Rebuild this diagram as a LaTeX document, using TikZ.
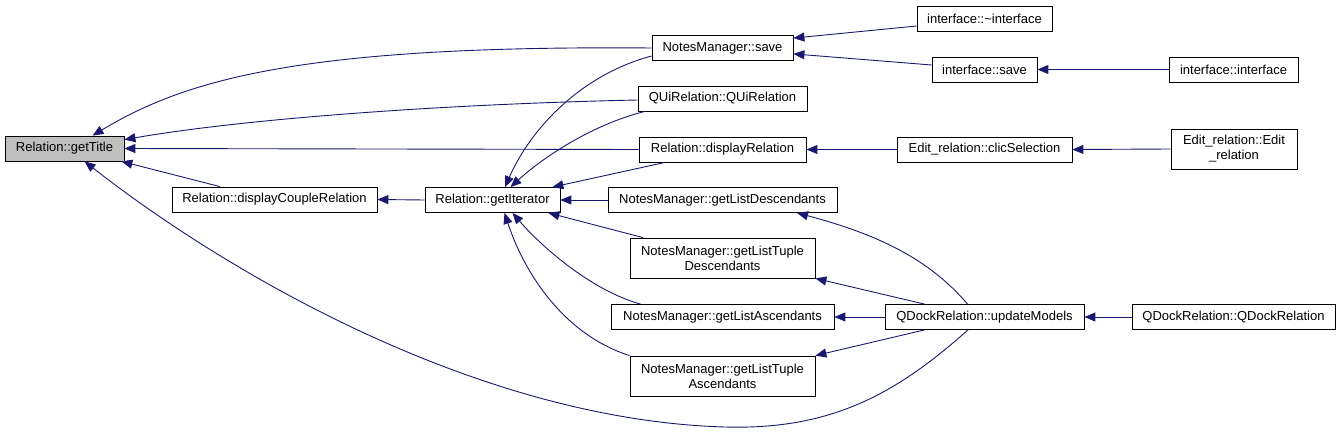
\documentclass[tikz,border=0pt]{standalone}
\usepackage{fontspec}
\setmainfont{Liberation Sans}
\usetikzlibrary{arrows.meta}
\definecolor{edgec}{HTML}{191970}
\definecolor{nodefill}{HTML}{BFBFBF}
\begin{document}
\begin{tikzpicture}[x=1pt,y=-1pt,
  box/.style={draw=black,line width=0.8pt,fill=white,inner sep=0pt,
    font=\fontsize{13}{15}\selectfont,align=center,minimum height=25pt},
  tallbox/.style={box,minimum height=40pt},
  edge/.style={draw=edgec,line width=0.9pt,{Triangle[length=11pt,width=9pt]}-}]
\useasboundingbox (0,0) rectangle (1341,433);
% nodes
\node[box,fill=nodefill,minimum width=119pt] (getTitle) at (64.5,148.5) {Relation::getTitle};
\node[box,minimum width=205pt] (couple) at (274.5,199.5) {Relation::displayCoupleRelation};
\node[box,minimum width=135pt] (iter) at (492.5,200) {Relation::getIterator};
\node[box,minimum width=141pt] (save) at (722.5,48) {NotesManager::save};
\node[box,minimum width=169pt] (qui) at (722.5,98.5) {QUiRelation::QUiRelation};
\node[box,minimum width=167pt] (disprel) at (722.5,149.5) {Relation::displayRelation};
\node[box,minimum width=229pt] (listdesc) at (722.5,200) {NotesManager::getListDescendants};
\node[tallbox,minimum width=185pt] (tupledesc) at (722.5,258) {NotesManager::getListTuple\\Descendants};
\node[box,minimum width=223pt] (listasc) at (722.5,317) {NotesManager::getListAscendants};
\node[tallbox,minimum width=185pt] (tupleasc) at (722.5,376) {NotesManager::getListTuple\\Ascendants};
\node[box,minimum width=135pt] (idtor) at (984.5,18.5) {interface::\textasciitilde interface};
\node[box,minimum width=105pt] (isave) at (984.5,69.5) {interface::save};
\node[box,minimum width=129pt] (iiface) at (1233.5,69.5) {interface::interface};
\node[box,minimum width=175pt] (clic) at (984.5,149.5) {Edit\_relation::clicSelection};
\node[tallbox,minimum width=126pt] (editrel) at (1234,149) {Edit\_relation::Edit\\\_relation};
\node[box,minimum width=199pt] (upd) at (984.5,317) {QDockRelation::updateModels};
\node[box,minimum width=203pt] (qdock) at (1233.5,317) {QDockRelation::QDockRelation};
% edges into getTitle
\draw[edge] ([xshift=28pt]getTitle.north) .. controls (185,80) and (300,45) .. (save.west);
\draw[edge] ([yshift=-4pt]getTitle.north east) .. controls (250,118) and (450,104) .. ([yshift=-1.5pt]qui.west);
\draw[edge] (getTitle.east) -- (disprel.west);
\draw[edge] ([xshift=-3pt]getTitle.south east) -- ([xshift=-54.5pt]couple.north);
\draw[edge] ([xshift=20pt]getTitle.south) .. controls (230,275) and (480,420) .. (725,427)
  .. controls (830,430) and (895,395) .. ([xshift=-16.5pt]upd.south);
% edges into displayCoupleRelation
\draw[edge] (couple.east) -- (iter.west);
% edges into getIterator
\draw[edge] ([xshift=12.5pt]iter.north) .. controls (530,130) and (580,75) .. ([yshift=-8pt]save.west);
\draw[edge] ([xshift=18pt]iter.north) .. controls (540,160) and (590,125) .. ([xshift=-77.5pt]qui.south);
\draw[edge] ([xshift=-8pt]iter.north east) -- ([xshift=-57.5pt]disprel.south);
\draw[edge] (iter.east) -- (listdesc.west);
\draw[edge] ([xshift=-12pt]iter.south east) -- ([xshift=-79.5pt]tupledesc.north);
\draw[edge] ([xshift=20pt]iter.south) .. controls (540,245) and (590,290) .. ([xshift=-82pt]listasc.north);
\draw[edge] ([xshift=12pt]iter.south) .. controls (525,275) and (565,335) .. (tupleasc.north west);
% edges into NotesManager::save
\draw[edge] ([yshift=-3pt]save.north east) -- ([yshift=-7.5pt]idtor.west);
\draw[edge] ([yshift=7pt]save.south east) -- ([yshift=4.5pt]isave.west);
\draw[edge] (isave.east) -- (iiface.west);
% displayRelation chain
\draw[edge] (disprel.east) -- (clic.west);
\draw[edge] (clic.east) -- (editrel.west);
% updateModels
\draw[edge] ([xshift=74.5pt]listdesc.south) .. controls (880,235) and (930,260) .. ([xshift=-17pt]upd.north);
\draw[edge] (tupledesc.south east) -- ([xshift=-60pt]upd.north);
\draw[edge] (listasc.east) -- (upd.west);
\draw[edge] (tupleasc.north east) -- ([xshift=-60pt]upd.south);
\draw[edge] (upd.east) -- (qdock.west);
\end{tikzpicture}
\end{document}
